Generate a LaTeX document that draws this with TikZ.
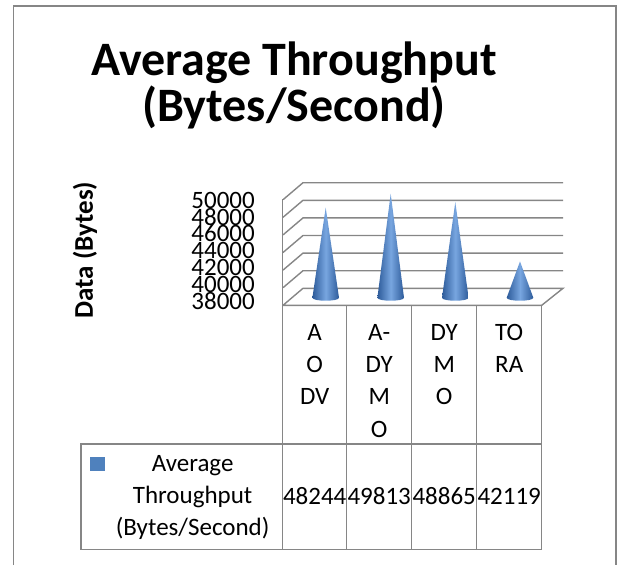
\documentclass[tikz,border=0pt]{standalone}
\usepackage{fontspec}
\setmainfont{Carlito}
\definecolor{gridgray}{HTML}{868686}
\definecolor{coneblue}{HTML}{4F81BD}
\definecolor{conedark}{HTML}{2D5B9A}
\definecolor{conelight}{HTML}{78A6E0}

\begin{document}
\begin{tikzpicture}[
	x=1pt,
	y=-1pt,
	grid line/.style={draw=gridgray, line width=1.4pt},
	title node/.style={font=\fontsize{48}{46}\selectfont\bfseries, align=center, anchor=north, inner sep=0pt},
	cat node/.style={font=\fontsize{25}{32.3}\selectfont, align=center, anchor=north, inner sep=0pt},
	val node/.style={font=\fontsize{25}{30}\selectfont, anchor=base, inner sep=0pt},
	tick node/.style={font=\fontsize{25}{25}\selectfont, anchor=base east, inner sep=0pt},
	cone/.style={left color=conedark, right color=conedark, middle color=conelight, shading angle=90}
]
\useasboundingbox (0,0) rectangle (618,565);

% frame
\draw[grid line] (13.5,565) -- (13.5,6) -- (616,6) -- (616,565);

\node[title node] (title) at (294,42) {Average Throughput\\(Bytes/Second)};

% back wall and floor
\foreach \k in {1,...,6}
	\draw[grid line] (283,288.3-\k*17.6+17) -- (303,288.3-\k*17.6) -- (563,288.3-\k*17.6);
\draw[grid line] (283,305.3) -- (303,288.3) -- (563,288.3) -- (541.7,305.3) -- (283,305.3);
\draw[grid line] (282.7,199.3) -- (282.7,549.3);

% axis labels
\foreach \k/\lab in {0/38000,1/40000,2/42000,3/44000,4/46000,5/48000,6/50000}
	\node[tick node] (tick\k) at (255,309.5-\k*16.9) {\lab};
\node[font=\fontsize{27}{27}\selectfont\bfseries, rotate=90] (ytitle) at (85,250) {Data (Bytes)};

% cones
\foreach \x/\v in {325.7/48.244,390.7/49.813,455.3/48.865,520/42.119}
	\shade[cone] (\x-13.3,297.7) -- (\x,297.7-\v*8.8+38*8.8) -- (\x+13.3,297.7)
		.. controls (\x+13.3,301.7) and (\x-13.3,301.7) .. cycle;

% table
\foreach \cx in {346.7,411.7,476.7,541.7}
	\draw[grid line] (\cx,305.3) -- (\cx,549.3);
\draw[grid line] (81,444) rectangle (541.7,549.3);

\node[cat node] (aodv) at (314.7,324) {A\\O\\DV};
\node[cat node] (adymo) at (379.2,324) {A-\\DY\\M\\O};
\node[cat node] (dymo) at (444.2,324) {DY\\M\\O};
\node[cat node] (tora) at (509.2,324) {TO\\RA};

\fill[coneblue] (90,456.7) rectangle (105,470.7);
\node[cat node] (legend) at (192.6,455) {Average\\Throughput\\(Bytes/Second)};

\node[val node] (v1) at (314.7,504) {48244};
\node[val node] (v2) at (379.2,504) {49813};
\node[val node] (v3) at (444.2,504) {48865};
\node[val node] (v4) at (509.2,504) {42119};
\end{tikzpicture}
\end{document}
